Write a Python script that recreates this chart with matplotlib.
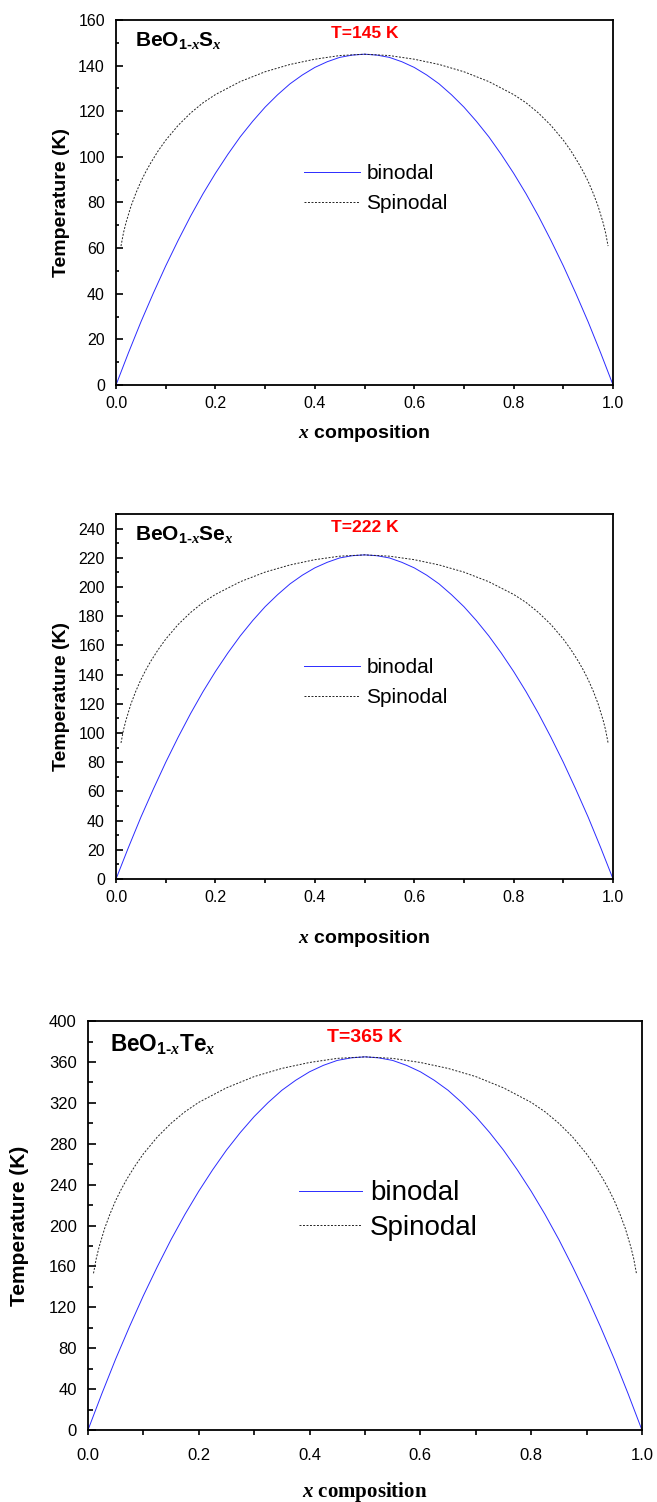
import matplotlib
matplotlib.use("Agg")
import matplotlib.pyplot as plt
from matplotlib.ticker import MultipleLocator, FormatStrFormatter

plt.rcParams['font.family'] = ['Liberation Sans', 'DejaVu Sans']
plt.rcParams['mathtext.fontset'] = 'custom'
plt.rcParams['mathtext.rm'] = 'Liberation Sans:bold'
plt.rcParams['mathtext.it'] = 'Liberation Serif:italic:bold'
plt.rcParams['mathtext.bf'] = 'Liberation Sans:bold'

# composition grid of the binodal curves
xBin = [0.0, 0.025, 0.05, 0.075, 0.1, 0.125, 0.15, 0.175, 0.2, 0.225, 0.25, 0.275, 0.3, 0.325,
        0.35, 0.375, 0.4, 0.425, 0.45, 0.475, 0.5, 0.525, 0.55, 0.575, 0.6, 0.625, 0.65, 0.675,
        0.7, 0.725, 0.75, 0.775, 0.8, 0.825, 0.85, 0.875, 0.9, 0.925, 0.95, 0.975, 1.0]
# composition grid of the spinodal curves
xSpi = [0.01, 0.015, 0.02, 0.03, 0.04, 0.05, 0.06, 0.07, 0.085, 0.1, 0.125, 0.15, 0.175, 0.2,
        0.25, 0.3, 0.35, 0.4, 0.45, 0.5, 0.55, 0.6, 0.65, 0.7, 0.75, 0.8, 0.825, 0.85, 0.875,
        0.9, 0.915, 0.93, 0.94, 0.95, 0.96, 0.97, 0.98, 0.985, 0.99]

# BeO1-xSx
binS = [0, 14.1, 27.6, 40.2, 52.2, 63.4, 74.0, 83.8, 92.8, 101.1, 108.8, 115.6, 121.8, 127.2,
        132.0, 135.9, 139.2, 141.7, 143.6, 144.6, 145, 144.6, 143.6, 141.7, 139.2, 135.9, 132.0,
        127.2, 121.8, 115.6, 108.8, 101.1, 92.8, 83.8, 74.0, 63.4, 52.2, 40.2, 27.6, 14.1, 0]
spiS = [60.9, 66.7, 71.1, 78.3, 84.1, 89.2, 93.5, 97.4, 102.7, 107.3, 113.8, 119.2, 123.7, 127.3,
        133.0, 137.3, 140.5, 142.8, 144.4, 145, 144.4, 142.8, 140.5, 137.3, 133.0, 127.3, 123.7,
        119.2, 113.8, 107.3, 102.7, 97.4, 93.5, 89.2, 84.1, 78.3, 71.1, 66.7, 60.9]
# BeO1-xSex
binSe = [0, 21.6, 42.3, 61.5, 79.9, 97.1, 113.3, 128.3, 142.1, 154.8, 166.5, 177.0, 186.5, 194.7,
         202.1, 208.1, 213.1, 216.9, 219.9, 221.4, 222, 221.4, 219.9, 216.9, 213.1, 208.1, 202.1,
         194.7, 186.5, 177.0, 166.5, 154.8, 142.1, 128.3, 113.3, 97.1, 79.9, 61.5, 42.3, 21.6, 0]
spiSe = [93.2, 102.1, 108.8, 119.9, 128.8, 136.5, 143.2, 149.2, 157.2, 164.3, 174.3, 182.5, 189.4,
         194.9, 203.6, 210.2, 215.1, 218.7, 221.1, 222, 221.1, 218.7, 215.1, 210.2, 203.6, 194.9,
         189.4, 182.5, 174.3, 164.3, 157.2, 149.2, 143.2, 136.5, 128.8, 119.9, 108.8, 102.1, 93.2]
# BeO1-xTex
binTe = [0, 35.5, 69.5, 101.2, 131.4, 159.6, 186.3, 210.9, 233.6, 254.5, 273.8, 291.0, 306.6,
         320.2, 332.3, 342.1, 350.4, 356.7, 361.5, 364.0, 365, 364.0, 361.5, 356.7, 350.4, 342.1,
         332.3, 320.2, 306.6, 291.0, 273.8, 254.5, 233.6, 210.9, 186.3, 159.6, 131.4, 101.2, 69.5,
         35.5, 0]
spiTe = [153.3, 167.9, 178.9, 197.1, 211.7, 224.5, 235.4, 245.3, 258.4, 270.1, 286.5, 300.0,
         311.3, 320.5, 334.7, 345.7, 353.7, 359.5, 363.5, 365, 363.5, 359.5, 353.7, 345.7, 334.7,
         320.5, 311.3, 300.0, 286.5, 270.1, 258.4, 245.3, 235.4, 224.5, 211.7, 197.1, 178.9,
         167.9, 153.3]

titulos = [r'$\mathrm{BeO}_{\mathrm{1‐}x}\mathrm{S}_{x}$',
           r'$\mathrm{BeO}_{\mathrm{1‐}x}\mathrm{Se}_{x}$',
           r'$\mathrm{BeO}_{\mathrm{1‐}x}\mathrm{Te}_{x}$']
tcrit = ["T=145 K", "T=222 K", "T=365 K"]


def panel(ax, b, s, ymax, ymaj, ymin, titulo, tc, big=False):
    ax.plot(xBin, b, color="#2b2bff", lw=0.7, label="binodal")
    ax.plot(xSpi, s, color="#222222", lw=0.7, ls=(0, (2, 1.6)), label="Spinodal")
    ax.set_xlim(0, 1)
    ax.set_ylim(0, ymax)
    ax.xaxis.set_major_locator(MultipleLocator(0.2))
    ax.xaxis.set_minor_locator(MultipleLocator(0.1))
    ax.yaxis.set_major_locator(MultipleLocator(ymaj))
    ax.yaxis.set_minor_locator(MultipleLocator(ymin))
    ax.xaxis.set_major_formatter(FormatStrFormatter("%.1f"))
    for sp in ax.spines.values():
        sp.set_linewidth(1.3)
    fs = 12 if big else 11.5
    ax.tick_params(axis="x", which="both", direction="out", width=1.2,
                   length=3.6 if big else 2.6, labelsize=fs, pad=9 if big else 5)
    ax.tick_params(axis="y", which="major", direction="in", width=1.2,
                   length=5.5 if big else 5, labelsize=fs, pad=8)
    ax.tick_params(axis="y", which="minor", direction="in", width=1.2,
                   length=3.5 if big else 2.5)
    if big:
        ax.set_xlabel(r"$x$ composition", fontsize=15, fontweight="bold",
                      family="Liberation Serif", va="center")
        ax.set_ylabel("Temperature (K)", fontsize=15, fontweight="bold", va="center")
        ax.xaxis.set_label_coords(0.5, -0.152)
        ax.yaxis.set_label_coords(-0.123, 0.5)
        ax.legend(loc="center left", bbox_to_anchor=(0.381, 0.537), frameon=False,
                  fontsize=20, handlelength=2.27, handletextpad=0.29,
                  labelspacing=0.3, borderpad=0, borderaxespad=0)
        ax.text(0.04, 0.924, titulo, transform=ax.transAxes, fontsize=16.3,
                fontweight="bold", va="baseline", ha="left")
        ax.text(0.5, 0.949, tc, transform=ax.transAxes, fontsize=14,
                fontweight="bold", color="red", va="baseline", ha="center")
    else:
        ax.set_xlabel(r"$x$ composition", fontsize=14, fontweight="bold", va="center")
        ax.set_ylabel("Temperature (K)", fontsize=14, fontweight="bold", va="center")
        ax.yaxis.set_label_coords(-0.109, 0.5)
        ax.legend(loc="center left", bbox_to_anchor=(0.378, 0.538), frameon=False,
                  fontsize=15, handlelength=2.7, handletextpad=0.3,
                  labelspacing=0.5, borderpad=0, borderaxespad=0)
        ax.text(0.038, 0.928, titulo, transform=ax.transAxes, fontsize=15,
                fontweight="bold", va="baseline", ha="left")
        ax.text(0.5, 0.951, tc, transform=ax.transAxes, fontsize=12.5,
                fontweight="bold", color="red", va="baseline", ha="center")


fig = plt.figure(figsize=(6.57, 15.02), dpi=100)
ax1 = fig.add_axes([0.1766, 0.7437, 0.7565, 0.2430])
ax2 = fig.add_axes([0.1766, 0.4148, 0.7565, 0.2430])
ax3 = fig.add_axes([0.1339, 0.0479, 0.8432, 0.2723])

panel(ax1, binS, spiS, 160, 20, 10, titulos[0], tcrit[0])
ax1.xaxis.set_label_coords(0.5, -0.134)
panel(ax2, binSe, spiSe, 250, 20, 10, titulos[1], tcrit[1])
ax2.xaxis.set_label_coords(0.5, -0.162)
panel(ax3, binTe, spiTe, 400, 40, 20, titulos[2], tcrit[2], big=True)

fig.savefig("out.png", dpi=100)
